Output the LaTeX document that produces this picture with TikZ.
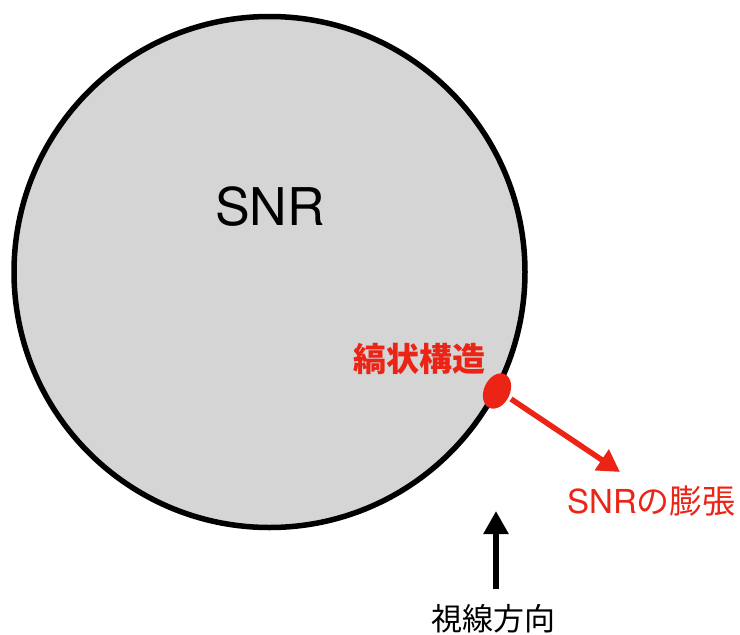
\documentclass[tikz,border=0pt]{standalone}
\usepackage{fontspec}
\setmainfont{TeX Gyre Heros}
\newfontfamily\cjk{Noto Sans CJK JP}
\usetikzlibrary{arrows.meta,shapes.geometric}
\definecolor{snrred}{RGB}{236,36,22}
\definecolor{snrgray}{RGB}{213,213,213}
\tikzset{
  px/.style={x=1pt,y=-1pt},
  redarrow/.style={draw=snrred, line width=5.5pt, -{Triangle[length=22pt,width=24pt]}},
  blackarrow/.style={draw=black, line width=5.5pt, -{Triangle[length=23pt,width=24pt]}},
}
\begin{document}
\begin{tikzpicture}[px]
\useasboundingbox (0,0) rectangle (740,635);
\node[circle, draw=black, line width=5.5pt, fill=snrgray, minimum size=511pt, inner sep=0pt] (snr) at (269.5,272) {};
\node (snrlabel) at (270,207) {\fontsize{52}{52}\selectfont SNR};
\node[ellipse, fill=snrred, minimum width=26pt, minimum height=37pt, inner sep=0pt, rotate=-25] (blob) at (497,391) {};
\node[text=snrred] (stripe) at (419,359) {\cjk\bfseries\fontsize{33}{33}\selectfont 縞状構造};
\coordinate (redstart) at (511,399);
\coordinate (redend) at (620,472);
\draw[redarrow] (redstart) -- (redend);
\node[text=snrred, anchor=west, inner sep=0pt] (expand) at (567,501) {\fontsize{33}{33}\selectfont SNR{\cjk の膨張}};
\coordinate (blackstart) at (496,589);
\coordinate (blackend) at (496,511);
\draw[blackarrow] (blackstart) -- (blackend);
\node (sight) at (493,619) {\cjk\fontsize{31}{31}\selectfont 視線方向};
\end{tikzpicture}
\end{document}
